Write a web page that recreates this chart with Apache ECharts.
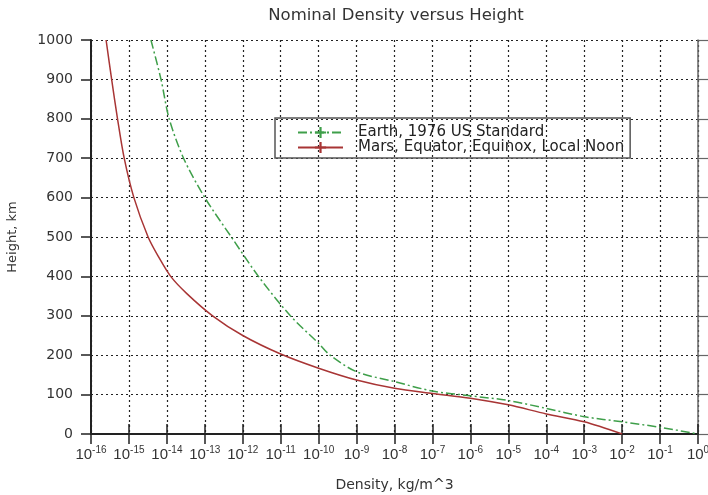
<!DOCTYPE html>
<html>
<head>
<meta charset="utf-8">
<script src="https://cdn.jsdelivr.net/npm/echarts@6/dist/echarts.min.js"></script>
<style>
  html, body { margin: 0; padding: 0; background: #fff; }
  #chart { width: 708px; height: 495px; }
</style>
</head>
<body>
<div id="chart"></div>
<script>
// density (kg/m^3) and height (km)
const earthDensity = [3.8e-15, 7e-15, 1.15e-14, 2.75e-14, 1e-13, 5e-13, 2.6e-12, 1.8e-11, 1e-10, 2e-10, 1e-9, 1e-8, 1e-7, 1e-6, 1e-5, 1e-4, 1e-3, 1e-2, 1e-1, 1]
const earthHeight  = [1000, 900, 800, 700, 600, 500, 400, 300, 230, 200, 158, 133, 109, 97, 85, 65, 44, 31, 17, 0]

const marsDensity = [2.5e-16, 3.5e-16, 5e-16, 7.5e-16, 1.35e-15, 3.2e-15, 6e-15, 1.26e-14, 3.3e-14, 1.6e-13, 1e-12, 1e-11, 1e-10, 1e-9, 1e-8, 1e-7, 1e-6, 1e-5, 1e-4, 1e-3, 1e-2]
const marsHeight  = [1000, 900, 800, 700, 600, 500, 450, 400, 357, 300, 250, 203, 167, 137, 116, 103, 91, 74, 51, 31, 0]

const seriesNames = ['Earth, 1976 US Standard', 'Mars, Equator, Equinox, Local Noon']
const heightTicks = [0, 100, 200, 300, 400, 500, 600, 700, 800, 900, 1000]

const FONT = 'DejaVu Sans'
const chart = echarts.init(document.getElementById('chart'))

const pairs = (xs, ys) => xs.map((x, i) => [x, ys[i]])
const gridDots = { show: true, lineStyle: { color: '#222', width: 1.2, type: [2, 3] } }
const plus = 'path://M4,0 H6 V4 H10 V6 H6 V10 H4 V6 H0 V4 H4 Z'

chart.setOption({
  animation: false,
  title: {
    text: 'Nominal Density versus Height',
    left: 391, top: 2, textAlign: 'center',
    textStyle: { fontFamily: FONT, fontSize: 16.5, fontWeight: 'normal', color: '#333' }
  },
  legend: {
    data: seriesNames,
    orient: 'vertical',
    left: 275, top: 118,
    padding: [7, 6, 3, 22],
    itemGap: 0,
    itemWidth: 45, itemHeight: 14,
    borderColor: '#555', borderWidth: 1.5,
    textStyle: { fontFamily: FONT, fontSize: 15, color: '#222', padding: [0, 0, 0, 10] }
  },
  grid: { left: 91, right: 10, top: 40, bottom: 61, outerBoundsMode: 'none' },
  xAxis: [
    {
      type: 'log', logBase: 10, min: 1e-16, max: 1, interval: 1,
      name: 'Density, kg/m^3', nameLocation: 'middle', nameGap: 44,
      nameTextStyle: { fontFamily: FONT, fontSize: 14, color: '#333' },
      axisLine: { show: true, lineStyle: { color: '#222', width: 2 } },
      axisTick: { show: true, length: 10, inside: false, lineStyle: { color: '#222', width: 1.5 } },
      minorTick: { show: false },
      splitLine: gridDots,
      axisLabel: {
        margin: 11,
        formatter: v => '{b|10}{s|' + Math.round(Math.log10(v)) + '}',
        rich: {
          b: { fontFamily: 'Liberation Sans', fontSize: 15, color: '#333' },
          s: { fontFamily: 'Liberation Sans', fontSize: 10, color: '#333', verticalAlign: 'top', padding: [0, 0, 9, 0] }
        }
      }
    },
    {
      type: 'log', logBase: 10, min: 1e-16, max: 1, interval: 1, position: 'top',
      axisLine: { show: true, lineStyle: { color: '#222', width: 2 } },
      axisTick: { show: true, length: 10, lineStyle: { color: '#222', width: 1.5 } },
      axisLabel: { show: false },
      splitLine: { show: false }
    }
  ],
  yAxis: [
    {
      type: 'value', min: heightTicks[0], max: heightTicks[heightTicks.length - 1], interval: 100,
      name: 'Height, km', nameLocation: 'middle', nameGap: 72, nameRotate: 90,
      nameTextStyle: { fontFamily: FONT, fontSize: 13, color: '#333' },
      axisLine: { show: true, lineStyle: { color: '#222', width: 2 } },
      axisTick: { show: true, length: 10, lineStyle: { color: '#222', width: 1.5 } },
      splitLine: gridDots,
      axisLabel: { margin: 18, fontFamily: FONT, fontSize: 14, color: '#333', formatter: v => String(v) }
    },
    {
      type: 'value', min: 0, max: 1000, interval: 100, position: 'right',
      axisLine: { show: true, lineStyle: { color: '#666', width: 1.5 } },
      axisTick: { show: true, length: 10, lineStyle: { color: '#666', width: 1.2 } },
      axisLabel: { show: false },
      splitLine: { show: false }
    }
  ],
  series: [
    {
      name: seriesNames[0], type: 'line',
      data: pairs(earthDensity, earthHeight),
      smooth: 0.3, showSymbol: false,
      symbol: plus, symbolSize: 9,
      itemStyle: { color: '#3f9f4a' },
      lineStyle: { color: '#3f9f4a', width: 1.5, type: [9, 3, 2, 3] },
      z: 3
    },
    {
      name: seriesNames[1], type: 'line',
      data: pairs(marsDensity, marsHeight),
      smooth: 0.3, showSymbol: false,
      symbol: plus, symbolSize: 9,
      itemStyle: { color: '#a83535' },
      lineStyle: { color: '#a83535', width: 1.5 },
      z: 4
    }
  ]
})
</script>
</body>
</html>
